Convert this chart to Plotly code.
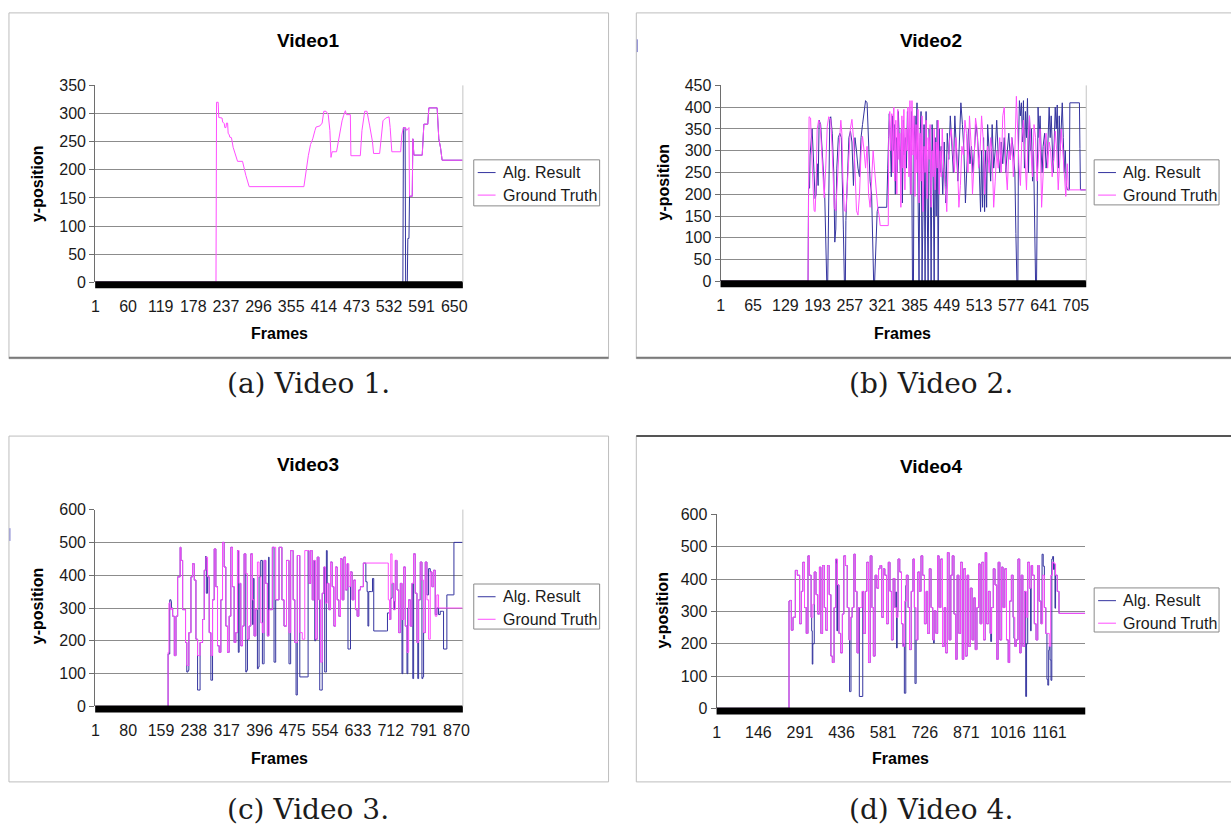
import plotly.graph_objects as go

W, H = 1231, 834

# ---------------------------------------------------------------------------
# Tracked y-position per frame, stored as (frame, y) vertices of each polyline
# ---------------------------------------------------------------------------

# Video 1
v1_alg = [(1, 0), (557, 0), (558, 275), (561, 275), (562, 0), (565, 0), (566, 78), (568, 78),
          (569, 153), (574, 153), (575, 255), (577, 226), (592, 226), (594, 265), (595, 281),
          (602, 281), (604, 310), (619, 310), (621, 280), (622, 255), (625, 240), (628, 217),
          (665, 217)]
v1_truth = [(1, 0), (219, 0), (220, 320), (223, 320), (224, 293), (230, 292), (231, 285), (234, 282),
            (235, 275), (237, 275), (238, 283), (240, 283), (241, 265), (243, 262), (244, 258),
            (247, 257), (250, 240), (253, 230), (256, 222), (258, 215), (267, 215), (270, 200),
            (273, 190), (276, 180), (279, 170), (378, 170), (380, 185), (382, 205), (386, 225),
            (390, 245), (394, 255), (398, 270), (400, 276), (407, 278), (411, 283), (414, 304),
            (418, 304), (422, 298), (425, 270), (427, 222), (429, 232), (437, 232), (440, 250),
            (444, 270), (447, 287), (450, 297), (453, 305), (455, 298), (462, 298), (463, 225),
            (480, 225), (483, 270), (486, 290), (488, 304), (492, 304), (495, 285), (497, 278),
            (502, 250), (504, 229), (515, 229), (518, 262), (521, 287), (526, 292), (532, 294),
            (534, 275), (536, 250), (537, 232), (553, 232), (555, 262), (558, 275), (562, 275),
            (564, 270), (568, 275), (569, 153), (574, 153), (575, 255), (577, 226), (592, 226),
            (594, 265), (595, 281), (602, 281), (604, 310), (619, 310), (621, 280), (622, 255),
            (625, 240), (628, 217), (665, 217)]
v1_frame_ticks = [1, 60, 119, 178, 237, 296, 355, 414, 473, 532, 591, 650]
v1_y_ticks = [0, 50, 100, 150, 200, 250, 300, 350]

# Video 2
v2_alg = [(1, 0), (174, 0), (175, 214), (177, 214), (178, 290), (180, 330), (182, 350), (184, 300),
          (186, 230), (188, 190), (190, 200), (192, 270), (194, 220), (196, 370), (199, 360),
          (202, 300), (205, 260), (207, 200), (209, 100), (211, 0), (213, 0), (215, 200), (217, 370),
          (219, 378), (222, 340), (225, 250), (227, 90), (229, 120), (231, 260), (234, 330),
          (237, 340), (240, 330), (242, 170), (244, 120), (246, 0), (248, 0), (249, 140), (252, 230),
          (255, 330), (258, 345), (261, 320), (264, 220), (267, 330), (270, 300), (273, 260),
          (276, 240), (279, 330), (282, 360), (285, 390), (288, 415), (291, 410), (294, 300),
          (297, 230), (300, 200), (302, 120), (304, 0), (306, 0), (308, 90), (311, 160), (313, 170),
          (330, 170), (332, 260), (335, 385), (337, 330), (339, 240), (341, 380), (343, 300),
          (345, 360), (347, 200), (349, 330), (351, 250), (353, 390), (355, 300), (357, 250),
          (359, 350), (361, 180), (363, 370), (365, 290), (367, 330), (369, 260), (371, 390),
          (373, 300), (375, 350), (377, 200), (379, 390), (381, 0), (383, 0), (384, 300), (386, 380),
          (388, 280), (390, 410), (392, 200), (394, 0), (396, 330), (398, 390), (400, 0), (402, 270),
          (404, 360), (406, 0), (408, 390), (410, 200), (412, 0), (414, 350), (416, 300), (418, 0),
          (420, 360), (422, 260), (424, 0), (426, 330), (428, 150), (430, 370), (432, 0), (434, 350),
          (436, 250), (438, 310), (441, 200), (444, 320), (447, 180), (450, 340), (453, 280),
          (456, 380), (459, 300), (462, 250), (465, 380), (468, 300), (471, 230), (474, 320),
          (477, 410), (480, 360), (483, 300), (486, 180), (489, 280), (492, 350), (495, 270),
          (498, 310), (501, 250), (504, 300), (507, 360), (510, 330), (513, 270), (516, 160),
          (518, 300), (520, 170), (522, 330), (524, 160), (526, 300), (528, 170), (530, 360),
          (533, 300), (536, 230), (539, 360), (542, 260), (545, 300), (548, 370), (551, 290),
          (554, 250), (557, 320), (560, 270), (563, 330), (566, 250), (569, 300), (572, 340),
          (575, 280), (578, 330), (581, 300), (584, 250), (586, 110), (588, 0), (590, 0), (591, 300),
          (593, 415), (595, 380), (597, 410), (599, 320), (601, 415), (603, 260), (605, 390),
          (607, 330), (609, 420), (611, 250), (613, 380), (615, 300), (617, 350), (619, 230),
          (621, 300), (623, 80), (625, 0), (627, 0), (628, 240), (630, 400), (632, 330), (634, 380),
          (636, 300), (638, 250), (640, 310), (643, 340), (646, 260), (649, 300), (652, 400),
          (654, 330), (656, 380), (658, 290), (660, 250), (662, 320), (664, 400), (666, 350),
          (668, 405), (670, 260), (672, 380), (674, 300), (676, 350), (678, 410), (680, 330),
          (682, 250), (684, 300), (686, 220), (688, 210), (692, 210), (693, 410), (712, 410),
          (713, 305), (714, 210), (725, 210)]
v2_truth = [(1, 0), (174, 0), (176, 378), (179, 375), (181, 300), (184, 190), (186, 162), (188, 160),
            (190, 220), (192, 348), (195, 370), (198, 362), (201, 296), (204, 214), (206, 192),
            (209, 260), (212, 355), (215, 378), (219, 372), (222, 296), (224, 250), (226, 170),
            (229, 162), (232, 235), (234, 296), (237, 335), (239, 370), (241, 340), (243, 236),
            (246, 162), (249, 160), (252, 230), (255, 296), (258, 352), (261, 372), (264, 330),
            (267, 260), (270, 162), (273, 152), (276, 200), (279, 296), (282, 333), (285, 300),
            (288, 260), (291, 310), (294, 200), (297, 170), (300, 230), (303, 300), (306, 255),
            (309, 200), (312, 170), (315, 150), (317, 128), (333, 128), (334, 330), (336, 390),
            (338, 300), (340, 385), (342, 250), (344, 400), (346, 230), (348, 370), (350, 200),
            (352, 395), (354, 280), (356, 340), (358, 170), (360, 380), (362, 260), (364, 395),
            (366, 210), (368, 350), (370, 300), (372, 400), (374, 240), (376, 415), (378, 200),
            (380, 415), (382, 290), (384, 380), (386, 195), (388, 360), (390, 250), (392, 395),
            (394, 180), (396, 340), (398, 230), (400, 380), (402, 160), (404, 310), (406, 250),
            (408, 370), (410, 190), (412, 330), (414, 280), (416, 360), (418, 170), (420, 300),
            (422, 240), (424, 350), (426, 210), (428, 320), (430, 260), (432, 370), (434, 200),
            (436, 300), (438, 240), (440, 350), (443, 260), (446, 220), (449, 160), (452, 280),
            (455, 330), (458, 350), (461, 300), (464, 250), (467, 330), (470, 280), (473, 170),
            (476, 220), (479, 310), (482, 290), (485, 370), (488, 340), (491, 250), (494, 380),
            (497, 320), (500, 200), (503, 270), (506, 375), (509, 350), (512, 260), (515, 300),
            (518, 380), (521, 330), (524, 200), (527, 270), (530, 310), (533, 250), (536, 330),
            (539, 290), (542, 170), (545, 230), (548, 300), (551, 260), (554, 330), (557, 250),
            (560, 380), (563, 400), (566, 260), (569, 210), (572, 300), (575, 280), (578, 330),
            (581, 240), (584, 300), (587, 425), (589, 350), (592, 270), (595, 220), (598, 330),
            (601, 370), (604, 280), (607, 210), (610, 320), (613, 380), (616, 300), (619, 240),
            (622, 360), (625, 330), (628, 230), (631, 300), (634, 350), (637, 170), (640, 260),
            (643, 320), (646, 340), (649, 260), (652, 320), (655, 300), (658, 240), (661, 280),
            (664, 345), (667, 300), (670, 210), (673, 270), (676, 350), (679, 300), (682, 240),
            (685, 195), (688, 270), (690, 210), (725, 210)]
v2_frame_ticks = [1, 65, 129, 193, 257, 321, 385, 449, 513, 577, 641, 705]
v2_y_ticks = [0, 50, 100, 150, 200, 250, 300, 350, 400, 450]

# Video 3
v3_alg = [(1, 0), (175, 0), (176, 160), (178, 160), (180, 325), (183, 320), (184, 300), (187, 275),
          (191, 155), (195, 275), (199, 395), (205, 485), (207, 445), (211, 295), (218, 195),
          (221, 105), (224, 110), (226, 225), (231, 395), (235, 435), (239, 385), (243, 205),
          (247, 50), (250, 50), (253, 195), (259, 265), (263, 415), (266, 457), (268, 345),
          (271, 395), (275, 225), (279, 80), (281, 80), (283, 325), (287, 480), (291, 365),
          (295, 185), (299, 165), (303, 325), (307, 500), (311, 425), (315, 245), (319, 165),
          (323, 275), (327, 485), (331, 365), (335, 195), (339, 225), (343, 475), (345, 165),
          (347, 375), (351, 185), (355, 245), (359, 465), (363, 105), (365, 110), (367, 205),
          (371, 245), (375, 465), (379, 250), (381, 390), (383, 215), (387, 295), (391, 115),
          (393, 120), (395, 395), (399, 445), (403, 130), (406, 130), (407, 445), (411, 375),
          (415, 215), (418, 455), (419, 295), (427, 485), (431, 135), (433, 135), (435, 325),
          (443, 485), (450, 325), (455, 245), (461, 445), (467, 130), (469, 130), (471, 475),
          (477, 325), (481, 195), (484, 35), (486, 35), (487, 460), (493, 90), (511, 90), (513, 475),
          (515, 375), (519, 475), (523, 325), (527, 445), (529, 200), (531, 205), (535, 455),
          (539, 325), (541, 50), (543, 50), (547, 345), (551, 425), (553, 105), (555, 105),
          (557, 475), (559, 375), (563, 295), (567, 440), (571, 365), (575, 245), (579, 425),
          (583, 325), (587, 275), (591, 450), (595, 325), (599, 455), (603, 355), (607, 435),
          (609, 175), (612, 175), (615, 410), (619, 325), (623, 385), (627, 295), (631, 275),
          (635, 355), (639, 365), (646, 437), (651, 437), (652, 380), (655, 350), (657, 245),
          (659, 350), (666, 350), (668, 390), (671, 230), (702, 230), (704, 285), (709, 265),
          (712, 330), (715, 375), (719, 295), (721, 320), (723, 445), (727, 355), (731, 225),
          (735, 375), (739, 100), (741, 265), (743, 425), (747, 245), (751, 100), (753, 300),
          (755, 325), (759, 245), (763, 375), (765, 85), (767, 465), (771, 345), (775, 195),
          (777, 85), (779, 325), (783, 440), (787, 85), (789, 90), (791, 225), (795, 440),
          (799, 340), (803, 420), (807, 410), (811, 365), (815, 415), (819, 280), (823, 300),
          (827, 280), (831, 290), (836, 290), (839, 175), (846, 175), (847, 340), (863, 340),
          (864, 500), (885, 500)]
v3_truth = [(1, 0), (175, 0), (176, 165), (178, 315), (181, 295), (184, 300), (187, 275), (191, 155),
            (195, 275), (199, 395), (205, 485), (207, 445), (211, 295), (218, 195), (221, 125),
            (226, 225), (231, 395), (235, 435), (239, 385), (243, 205), (247, 155), (253, 195),
            (259, 265), (263, 415), (267, 455), (271, 395), (275, 225), (279, 155), (283, 325),
            (287, 480), (291, 365), (295, 185), (299, 165), (303, 325), (307, 500), (311, 425),
            (315, 245), (319, 165), (323, 275), (327, 485), (331, 365), (335, 195), (339, 225),
            (343, 475), (347, 375), (351, 185), (355, 245), (359, 465), (363, 405), (367, 205),
            (371, 245), (375, 465), (379, 325), (383, 215), (387, 295), (391, 440), (395, 395),
            (399, 255), (403, 225), (407, 445), (411, 375), (415, 215), (419, 295), (427, 485),
            (435, 325), (443, 485), (450, 325), (455, 245), (461, 445), (467, 225), (471, 475),
            (477, 325), (481, 195), (487, 460), (493, 225), (499, 205), (505, 475), (511, 475),
            (515, 375), (519, 475), (523, 325), (527, 445), (531, 205), (535, 455), (539, 325),
            (543, 135), (547, 345), (551, 425), (555, 315), (559, 375), (563, 295), (567, 440),
            (571, 365), (575, 245), (579, 425), (583, 325), (587, 275), (591, 450), (595, 325),
            (599, 455), (603, 355), (607, 435), (611, 365), (615, 410), (619, 325), (623, 385),
            (627, 295), (631, 275), (635, 355), (639, 365), (646, 437), (702, 437), (706, 325),
            (709, 265), (712, 465), (715, 375), (719, 295), (723, 445), (727, 355), (731, 225),
            (735, 375), (739, 265), (743, 425), (747, 245), (751, 165), (755, 325), (759, 245),
            (763, 375), (767, 465), (771, 345), (775, 195), (779, 325), (783, 440), (787, 385),
            (791, 225), (795, 440), (799, 325), (803, 205), (807, 410), (811, 365), (815, 415),
            (819, 275), (823, 340), (827, 300), (885, 300)]
v3_frame_ticks = [1, 80, 159, 238, 317, 396, 475, 554, 633, 712, 791, 870]
v3_y_ticks = [0, 100, 200, 300, 400, 500, 600]

# Video 4
v4_alg = [(1, 0), (252, 0), (253, 332), (256, 334), (261, 242), (267, 282), (275, 427), (282, 412),
          (290, 262), (296, 362), (301, 452), (307, 312), (313, 232), (319, 472), (324, 412),
          (330, 282), (332, 240), (334, 137), (336, 200), (341, 422), (347, 352), (353, 292),
          (359, 437), (364, 232), (370, 442), (376, 312), (381, 242), (387, 442), (393, 352),
          (399, 162), (404, 142), (410, 312), (416, 462), (418, 450), (420, 240), (422, 382),
          (427, 232), (433, 172), (439, 292), (444, 472), (450, 442), (456, 312), (462, 212),
          (464, 52), (467, 52), (469, 282), (473, 312), (479, 477), (484, 362), (490, 172), (496, 312),
          (498, 37), (508, 37), (510, 362), (513, 232), (519, 362), (524, 452), (530, 142), (536, 472),
          (542, 312), (547, 162), (553, 412), (559, 372), (565, 432), (570, 442), (576, 282),
          (582, 432), (587, 412), (593, 262), (599, 452), (605, 362), (610, 212), (616, 402),
          (622, 312), (625, 360), (628, 187), (630, 300), (633, 462), (639, 422), (645, 262),
          (650, 192), (653, 200), (655, 47), (658, 47), (660, 380), (662, 412), (668, 312), (673, 182),
          (679, 362), (685, 462), (690, 312), (692, 77), (694, 77), (696, 212), (702, 422), (708, 362),
          (713, 472), (719, 412), (725, 262), (731, 362), (736, 232), (742, 432), (748, 312),
          (754, 212), (757, 202), (759, 302), (765, 232), (771, 472), (776, 312), (782, 462),
          (788, 192), (794, 312), (799, 172), (805, 482), (811, 212), (817, 412), (822, 472),
          (828, 292), (834, 152), (839, 412), (845, 232), (851, 452), (857, 152), (862, 432),
          (868, 162), (874, 412), (879, 192), (885, 372), (891, 212), (897, 342), (902, 182),
          (908, 312), (914, 447), (919, 262), (925, 452), (931, 212), (937, 482), (942, 262),
          (948, 362), (954, 232), (956, 207), (959, 312), (965, 432), (971, 382), (977, 152),
          (982, 452), (988, 212), (994, 437), (999, 312), (1005, 432), (1011, 212), (1017, 142),
          (1022, 332), (1028, 412), (1034, 282), (1037, 217), (1040, 192), (1045, 212), (1051, 462),
          (1057, 172), (1062, 412), (1068, 192), (1074, 362), (1078, 37), (1081, 200), (1085, 452),
          (1091, 372), (1095, 240), (1097, 442), (1102, 412), (1108, 262), (1114, 212), (1120, 442),
          (1125, 332), (1131, 262), (1135, 477), (1139, 440), (1143, 312), (1148, 232), (1152, 90),
          (1155, 72), (1158, 180), (1160, 192), (1163, 150), (1166, 87), (1169, 462), (1172, 470),
          (1175, 430), (1177, 447), (1180, 310), (1182, 412), (1188, 362), (1194, 294), (1285, 294)]
v4_truth = [(1, 0), (252, 0), (253, 332), (256, 334), (261, 242), (267, 282), (275, 427), (282, 412),
            (290, 262), (296, 362), (301, 452), (307, 312), (313, 232), (319, 472), (324, 412),
            (330, 282), (336, 322), (341, 422), (347, 352), (353, 292), (359, 437), (364, 232),
            (370, 442), (376, 312), (381, 242), (387, 442), (393, 352), (399, 162), (404, 142),
            (410, 312), (416, 462), (422, 382), (427, 232), (433, 172), (439, 292), (444, 472),
            (450, 442), (456, 312), (462, 212), (467, 282), (473, 312), (479, 477), (484, 362),
            (490, 172), (496, 312), (507, 362), (513, 232), (519, 362), (524, 452), (530, 142),
            (536, 472), (542, 312), (547, 162), (553, 412), (559, 372), (565, 432), (570, 442),
            (576, 282), (582, 432), (587, 412), (593, 262), (599, 452), (605, 362), (610, 212),
            (616, 402), (622, 312), (627, 282), (633, 462), (639, 422), (645, 262), (650, 192),
            (656, 332), (662, 412), (668, 312), (673, 182), (679, 362), (685, 462), (690, 312),
            (696, 212), (702, 422), (708, 362), (713, 472), (719, 412), (725, 262), (731, 362),
            (736, 232), (742, 432), (748, 312), (754, 212), (759, 302), (765, 232), (771, 472),
            (776, 312), (782, 462), (788, 192), (794, 312), (799, 172), (805, 482), (811, 212),
            (817, 412), (822, 472), (828, 292), (834, 152), (839, 412), (845, 232), (851, 452),
            (857, 152), (862, 432), (868, 162), (874, 412), (879, 192), (885, 372), (891, 212),
            (897, 342), (902, 182), (908, 312), (914, 447), (919, 262), (925, 452), (931, 212),
            (937, 482), (942, 262), (948, 362), (954, 232), (959, 312), (965, 432), (971, 382),
            (977, 152), (982, 452), (988, 212), (994, 437), (999, 312), (1005, 432), (1011, 212),
            (1017, 142), (1022, 332), (1028, 412), (1034, 282), (1040, 192), (1045, 212), (1051, 462),
            (1057, 172), (1062, 412), (1068, 192), (1074, 362), (1080, 282), (1085, 452), (1091, 372),
            (1097, 442), (1102, 412), (1108, 262), (1114, 212), (1120, 442), (1125, 332), (1131, 262),
            (1137, 412), (1143, 312), (1148, 232), (1160, 192), (1165, 412), (1171, 452), (1177, 447),
            (1182, 412), (1188, 362), (1194, 294), (1285, 294)]
v4_frame_ticks = [1, 146, 291, 436, 581, 726, 871, 1016, 1161]
v4_y_ticks = [0, 100, 200, 300, 400, 500, 600]

series_names = ["Alg. Result", "Ground Truth"]

# ---------------------------------------------------------------------------
# Styling and layout (pixel geometry of the 1231 x 834 page)
# ---------------------------------------------------------------------------
ALG_COLOR = "#34349f"
TRUTH_COLOR = "#ff4dff"
GRID = "#8c8c8c"
SANS = "Liberation Sans, Arial, sans-serif"
SERIF = "DejaVu Serif, serif"
TEXT = "#1a1a1a"


def px(x):
    return x / W


def py(y):
    return 1 - y / H


panels = [
    dict(title="Video1", caption="(a) Video 1.", alg=v1_alg, truth=v1_truth,
         xticks=v1_frame_ticks, yticks=v1_y_ticks, n=665, shape="linear", right_border=True,
         plot=(92, 463, 79, 280), box=(5, 5, 610, 358), title_xy=(307, 33),
         ylab_xy=(34, 180), xlab_xy=(278, 332), legend=(474, 155, 601, 202),
         caption_xy=(307, 383)),
    dict(title="Video2", caption="(b) Video 2.", alg=v2_alg, truth=v2_truth,
         xticks=v2_frame_ticks, yticks=v2_y_ticks, n=725, shape="linear", right_border=True,
         plot=(723, 1092, 79, 279), box=(638, 5, 1240, 358), title_xy=(935, 33),
         ylab_xy=(665, 178), xlab_xy=(907, 332), legend=(1100, 155, 1226, 201),
         caption_xy=(935, 383)),
    dict(title="Video3", caption="(c) Video 3.", alg=v3_alg, truth=v3_truth,
         xticks=v3_frame_ticks, yticks=v3_y_ticks, n=885, shape="hv", right_border=True,
         plot=(92, 463, 512, 713), box=(5, 437, 610, 790), title_xy=(307, 466),
         ylab_xy=(34, 611), xlab_xy=(278, 766), legend=(474, 588, 601, 634),
         caption_xy=(307, 818)),
    dict(title="Video4", caption="(d) Video 4.", alg=v4_alg, truth=v4_truth,
         xticks=v4_frame_ticks, yticks=v4_y_ticks, n=1285, shape="hv", right_border=False,
         plot=(719, 1091, 517, 715), box=(638, 437, 1240, 790), title_xy=(935, 468),
         ylab_xy=(664, 615), xlab_xy=(905, 766), legend=(1100, 592, 1226, 637),
         caption_xy=(935, 818)),
]

fig = go.Figure()
shapes = []
annotations = []
layout_axes = {}

for i, p in enumerate(panels, start=1):
    s = "" if i == 1 else str(i)
    x0, x1, y0, y1 = p["plot"]

    for pts, color, name in ((p["alg"], ALG_COLOR, series_names[0]),
                             (p["truth"], TRUTH_COLOR, series_names[1])):
        fig.add_trace(go.Scatter(
            x=[f for f, _ in pts], y=[v for _, v in pts], mode="lines",
            line=dict(color=color, width=1, shape=p["shape"]), name=name, showlegend=False,
            xaxis="x" + s, yaxis="y" + s, hoverinfo="skip"))

    layout_axes["xaxis" + s] = dict(
        domain=[px(x0), px(x1)], range=[0.5, p["n"] + 0.5], anchor="y" + s,
        tickmode="array", tickvals=p["xticks"], ticktext=[str(t) for t in p["xticks"]],
        showgrid=False, zeroline=False, showline=False, ticks="",
        ticklabelstandoff=13, tickfont=dict(family=SANS, size=16, color=TEXT),
        fixedrange=True)
    layout_axes["yaxis" + s] = dict(
        domain=[py(y1), py(y0)], range=[0, p["yticks"][-1]], anchor="x" + s,
        tickmode="array", tickvals=p["yticks"], ticktext=[str(t) for t in p["yticks"]],
        showgrid=True, gridcolor=GRID, gridwidth=1, zeroline=False,
        showline=True, linecolor="#6e6e6e", linewidth=1,
        ticks="outside", ticklen=5, tickcolor="#6e6e6e",
        tickfont=dict(family=SANS, size=16, color=TEXT), fixedrange=True)

    # dense per-frame category ticks along the frame axis form a solid black band
    shapes.append(dict(type="rect", xref="x" + s + " domain", yref="y" + s + " domain",
                       x0=0, x1=1, ysizemode="pixel", yanchor=0, y0=1, y1=-6,
                       fillcolor="black", line=dict(width=0), layer="above"))
    if p["right_border"]:
        shapes.append(dict(type="line", xref="x" + s + " domain", yref="y" + s + " domain",
                           x0=1, x1=1, y0=0, y1=1, line=dict(color="#c4c4c4", width=1)))

    # chart frame
    bx0, by0, bx1, by1 = p["box"]
    shapes.append(dict(type="rect", xref="paper", yref="paper",
                       x0=px(bx0), x1=px(bx1), y0=py(by1), y1=py(by0),
                       line=dict(color="#bdbdbd", width=1), layer="below"))

    # legend
    lx0, ly0, lx1, ly1 = p["legend"]
    shapes.append(dict(type="rect", xref="paper", yref="paper",
                       x0=px(lx0), x1=px(lx1), y0=py(ly1), y1=py(ly0),
                       line=dict(color="#8a8a8a", width=1), fillcolor="white"))
    for k, (name, color) in enumerate(((series_names[0], ALG_COLOR),
                                       (series_names[1], TRUTH_COLOR))):
        ry = ly0 + 13 + k * 23
        shapes.append(dict(type="line", xref="paper", yref="paper",
                           x0=px(lx0 + 4), x1=px(lx0 + 22), y0=py(ry), y1=py(ry),
                           line=dict(color=color, width=1)))
        annotations.append(dict(text=name, xref="paper", yref="paper",
                                x=px(lx0 + 27), y=py(ry), xanchor="left", yanchor="middle",
                                showarrow=False, font=dict(family=SANS, size=16, color=TEXT)))

    tx, ty = p["title_xy"]
    annotations.append(dict(text=p["title"], xref="paper", yref="paper", x=px(tx), y=py(ty),
                            showarrow=False, xanchor="center", yanchor="middle",
                            font=dict(family=SANS, size=19, color="black", weight="bold")))
    yx, yy = p["ylab_xy"]
    annotations.append(dict(text="y-position", xref="paper", yref="paper", x=px(yx), y=py(yy),
                            textangle=-90, showarrow=False, xanchor="center", yanchor="middle",
                            font=dict(family=SANS, size=16, color="black", weight="bold")))
    fx, fy = p["xlab_xy"]
    annotations.append(dict(text="Frames", xref="paper", yref="paper", x=px(fx), y=py(fy),
                            showarrow=False, xanchor="center", yanchor="middle",
                            font=dict(family=SANS, size=16, color="black", weight="bold")))
    cx, cy = p["caption_xy"]
    annotations.append(dict(text=p["caption"], xref="paper", yref="paper", x=px(cx), y=py(cy),
                            showarrow=False, xanchor="center", yanchor="middle",
                            font=dict(family=SERIF, size=28, color="#1c1c1c")))

# darker edges on some chart frames
shapes.append(dict(type="line", xref="paper", yref="paper", x0=px(5), x1=px(610),
                   y0=py(357), y1=py(357), line=dict(color="#7a7a7a", width=2)))
shapes.append(dict(type="line", xref="paper", yref="paper", x0=px(638), x1=px(1240),
                   y0=py(357), y1=py(357), line=dict(color="#7a7a7a", width=2)))
shapes.append(dict(type="line", xref="paper", yref="paper", x0=px(638), x1=px(1240),
                   y0=py(437), y1=py(437), line=dict(color="#555555", width=2)))
# small blue marks at the left edge of two frames
shapes.append(dict(type="line", xref="paper", yref="paper", x0=px(639), x1=px(639),
                   y0=py(45), y1=py(32), line=dict(color="#7a7acc", width=1)))
shapes.append(dict(type="line", xref="paper", yref="paper", x0=px(6), x1=px(6),
                   y0=py(544), y1=py(531), line=dict(color="#7a7acc", width=1)))

fig.update_layout(
    width=W, height=H, autosize=False,
    margin=dict(l=0, r=0, t=0, b=0),
    paper_bgcolor="white", plot_bgcolor="white",
    showlegend=False, shapes=shapes, annotations=annotations,
    **layout_axes)

fig.write_html("out.html")
